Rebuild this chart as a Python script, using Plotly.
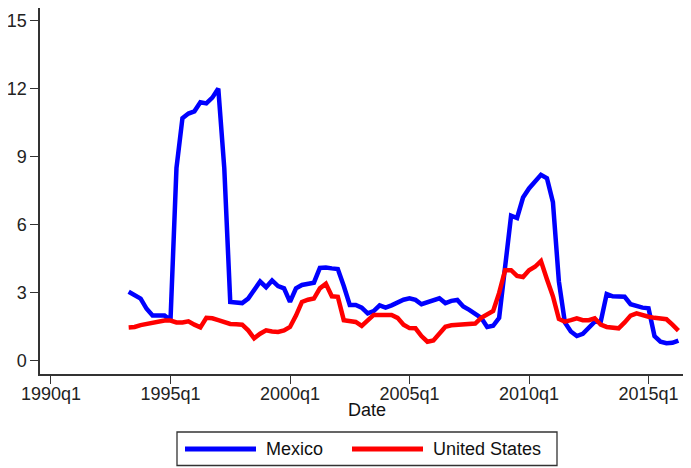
import plotly.graph_objects as go

# Quarterly data, 1993q2 .. 2016q2
start_year, start_q = 1993, 2
mexico = [
    3.05, 2.9, 2.75,                 # 1993 q2-q4
    2.3, 2.0, 2.0, 2.0,              # 1994
    1.8, 8.5, 10.7, 10.9,            # 1995
    11.0, 11.4, 11.35, 11.6,         # 1996
    12.0, 8.5, 2.6, 2.55,            # 1997
    2.55, 2.75, 3.1, 3.5,            # 1998
    3.25, 3.55, 3.3, 3.2,            # 1999
    2.6, 3.2, 3.35, 3.4,             # 2000
    3.45, 4.1, 4.12, 4.08,           # 2001
    4.05, 3.3, 2.47, 2.47,           # 2002
    2.35, 2.1, 2.2, 2.45,            # 2003
    2.35, 2.45, 2.6, 2.7,            # 2004
    2.76, 2.69, 2.5, 2.6,            # 2005
    2.7, 2.76, 2.55, 2.65,           # 2006
    2.69, 2.4, 2.25, 2.1,            # 2007
    1.9, 1.5, 1.55, 1.9,             # 2008
    4.2, 6.4, 6.3, 7.2,              # 2009
    7.6, 7.9, 8.2, 8.05,             # 2010
    7.0, 3.5, 1.7, 1.3,              # 2011
    1.1, 1.2, 1.45, 1.73,            # 2012
    1.73, 2.95, 2.85, 2.83,          # 2013
    2.83, 2.5, 2.4, 2.35,            # 2014
    2.32, 1.1, 0.85, 0.78,           # 2015
    0.8, 0.9,                        # 2016
]
united_states = [
    1.48, 1.5, 1.58,                 # 1993 q2-q4
    1.62, 1.66, 1.75, 1.78,          # 1994
    1.78, 1.7, 1.7, 1.75,            # 1995
    1.6, 1.48, 1.9, 1.88,            # 1996
    1.8, 1.7, 1.63, 1.62,            # 1997
    1.6, 1.35, 1.0, 1.2,             # 1998
    1.35, 1.3, 1.28, 1.35,           # 1999
    1.5, 2.0, 2.6, 2.7,              # 2000
    2.75, 3.2, 3.4, 2.85,            # 2001
    2.83, 1.8, 1.75, 1.72,           # 2002
    1.55, 1.8, 2.03, 2.03,           # 2003
    2.03, 2.03, 1.9, 1.6,            # 2004
    1.45, 1.44, 1.1, 0.85,           # 2005
    0.9, 1.2, 1.51, 1.57,            # 2006
    1.59, 1.6, 1.6, 1.65,            # 2007
    1.9, 2.05, 2.2, 3.0,             # 2008
    4.0, 4.0, 3.75, 3.7,             # 2009
    4.0, 4.15, 4.4, 3.6,             # 2010
    2.85, 1.85, 1.73, 1.8,           # 2011
    1.88, 1.8, 1.8, 1.88,            # 2012
    1.6, 1.5, 1.45, 1.44,            # 2013
    1.7, 2.0, 2.1, 2.0,              # 2014
    1.95, 1.9, 1.85, 1.84,           # 2015
    1.6, 1.34,                       # 2016
]
tick_years = [1990, 1995, 2000, 2005, 2010, 2015]
tick_labels = [f"{y}q1" for y in tick_years]
y_ticks = [0, 3, 6, 9, 12, 15]

n = len(mexico)
dates = [start_year + (start_q - 1 + i) / 4 for i in range(n)]

FONT = "Arial, Liberation Sans, sans-serif"
FS = 18
BLUE = "#0000FF"
RED = "#FF0000"
AX = "#333333"

fig = go.Figure()
fig.add_trace(go.Scatter(x=dates, y=mexico, mode="lines", name="Mexico",
                         line=dict(color=BLUE, width=4.5), showlegend=False))
fig.add_trace(go.Scatter(x=dates, y=united_states, mode="lines", name="United States",
                         line=dict(color=RED, width=4.5), showlegend=False))

# the page body adds an 8px offset; lay out in screen pixels and compensate
OFF = 8
W, H = 691 - OFF, 468 - OFF
plot_left, plot_right, plot_top, plot_bottom = 40, 687, 8, 374   # screen px
L = plot_left - OFF
T = plot_top - OFF
B = H - (plot_bottom - OFF)
R = W - (plot_right - OFF)
pw, ph = plot_right - plot_left, plot_bottom - plot_top

def px(xp):
    return (xp - plot_left) / pw

def py(yp):
    return (plot_bottom - yp) / ph

# custom legend (Stata-style)
shapes = [
    dict(type="rect", xref="paper", yref="paper", x0=px(177), x1=px(557),
         y0=py(432), y1=py(465.5), line=dict(color=AX, width=1.3), fillcolor="white"),
    dict(type="line", xref="paper", yref="paper", x0=px(185), x1=px(256),
         y0=py(449), y1=py(449), line=dict(color=BLUE, width=5)),
    dict(type="line", xref="paper", yref="paper", x0=px(352), x1=px(423),
         y0=py(449), y1=py(449), line=dict(color=RED, width=5)),
]
annotations = [
    dict(text="Mexico", xref="paper", yref="paper", x=px(264), y=py(449),
         xanchor="left", yanchor="middle", showarrow=False,
         font=dict(family=FONT, size=FS, color="#111")),
    dict(text="United States", xref="paper", yref="paper", x=px(431), y=py(449),
         xanchor="left", yanchor="middle", showarrow=False,
         font=dict(family=FONT, size=FS, color="#111")),
    dict(text="Date", xref="paper", yref="paper", x=px(367), y=py(410),
         xanchor="center", yanchor="middle", showarrow=False,
         font=dict(family=FONT, size=FS, color="#111")),
]

fig.update_layout(
    width=W, height=H,
    margin=dict(l=L, r=R, t=T, b=B, pad=0),
    paper_bgcolor="white", plot_bgcolor="white",
    font=dict(family=FONT, size=FS, color="#222"),
    shapes=shapes, annotations=annotations,
    xaxis=dict(range=[1989.54, 2016.61], tickvals=tick_years, ticktext=tick_labels,
               showgrid=False, zeroline=False, showline=True, linecolor=AX, linewidth=1.5,
               ticks="outside", ticklen=8, tickcolor=AX, tickwidth=1.3, automargin=False,
               ticklabelstandoff=-5),
    yaxis=dict(range=[-0.573, 15.55], tickvals=y_ticks, showgrid=False, zeroline=False,
               showline=True, linecolor=AX, linewidth=1.5, automargin=False,
               ticks="outside", ticklen=8, tickcolor=AX, tickwidth=1.3),
)

fig.write_html("out.html")
